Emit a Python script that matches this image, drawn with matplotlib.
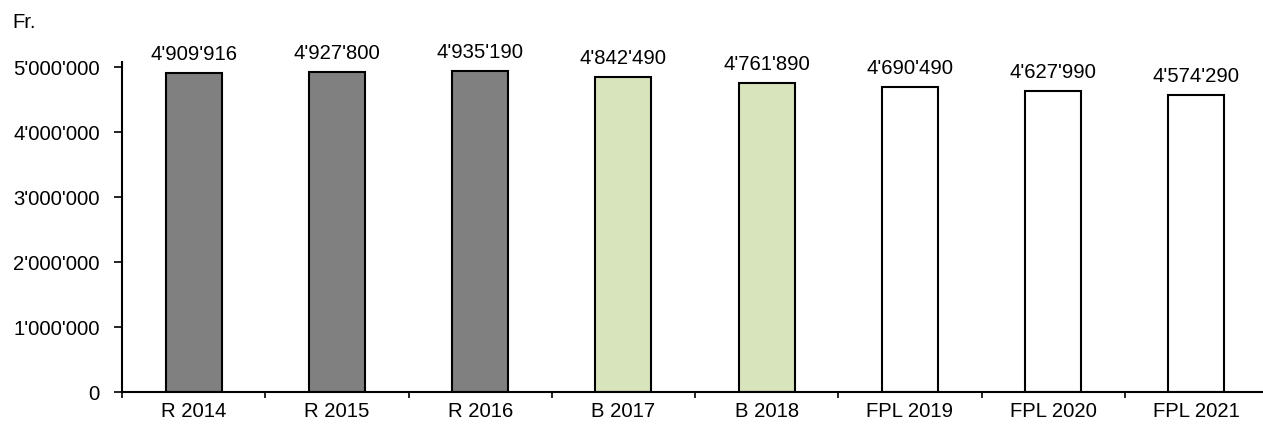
import numpy as np
import matplotlib as mpl
import matplotlib.pyplot as plt
from matplotlib.ticker import FuncFormatter

mpl.rcParams['font.family'] = ['Liberation Sans', 'DejaVu Sans']

# Daten
kategorien = ["R 2014", "R 2015", "R 2016", "B 2017", "B 2018", "FPL 2019", "FPL 2020", "FPL 2021"]
werte = [4909916, 4927800, 4935190, 4842490, 4761890, 4690490, 4627990, 4574290]
farben = ["#808080", "#808080", "#808080", "#d8e4bc", "#d8e4bc", "#ffffff", "#ffffff", "#ffffff"]
y_ticks = [0, 1000000, 2000000, 3000000, 4000000, 5000000]


def schweizer_format(v, pos=None):
    return f"{int(round(v)):,}".replace(",", "'")


fs = 14.6

fig = plt.figure(figsize=(12.63, 4.26), dpi=100)
# Achse reicht rechts etwas über den Bildrand hinaus (wie im Original)
ax = fig.add_axes([122 / 1263, (426 - 392) / 426, 1146 / 1263, 330 / 426])

x = np.arange(len(kategorien))
ax.bar(x, werte, width=0.39, color=farben, edgecolor="black", linewidth=1.5)

for xi, v in zip(x, werte):
    ax.annotate(schweizer_format(v), (xi, v), xytext=(0, 6.5), textcoords="offset points",
                ha="center", va="bottom", fontsize=fs)

ax.set_xlim(-0.5, len(kategorien) - 0.5)
ax.set_ylim(0, 5080000)
ax.set_yticks(y_ticks)
ax.yaxis.set_major_formatter(FuncFormatter(schweizer_format))
ax.set_xticks(x)
ax.set_xticklabels(kategorien)
ax.set_xticks(np.arange(len(kategorien) + 1) - 0.5, minor=True)
ax.tick_params(axis="x", which="major", length=0, labelsize=fs, pad=7.5)
ax.tick_params(axis="x", which="minor", length=4, width=1.2, direction="out")
ax.tick_params(axis="y", length=6, width=1.2, labelsize=fs, pad=10)

for s in ["top", "right"]:
    ax.spines[s].set_visible(False)
for s in ["left", "bottom"]:
    ax.spines[s].set_linewidth(1.5)

fig.text(12 / 1263, 1 - 23 / 426, "Fr.", fontsize=fs, va="center", ha="left")

fig.savefig("out.png", dpi=100)
